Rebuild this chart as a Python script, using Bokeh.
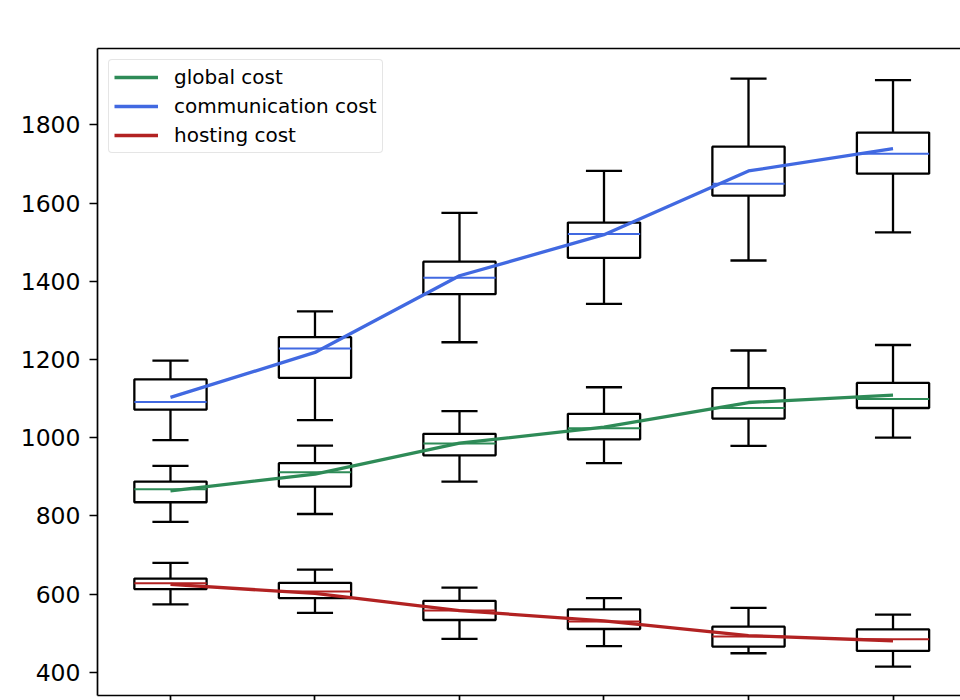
from bokeh.plotting import figure
from bokeh.models import FixedTicker, LinearAxis, Range1d, Legend, CustomLabelingPolicy
from bokeh.embed import file_html
from bokeh.resources import INLINE

positions = [1, 2, 3, 4, 5, 6]

comm_low = [994, 1045, 1244, 1342, 1453, 1525]
comm_q1 = [1072, 1153, 1367, 1460, 1619, 1675]
comm_med = [1091, 1228, 1409, 1521, 1649, 1726]
comm_q3 = [1149, 1257, 1450, 1550, 1744, 1780]
comm_high = [1197, 1323, 1575, 1682, 1918, 1914]
comm_line = [1103, 1218, 1414, 1519, 1682, 1739]

global_low = [785, 805, 888, 935, 979, 1000]
global_q1 = [835, 875, 955, 996, 1049, 1076]
global_med = [868, 912, 985, 1024, 1076, 1099]
global_q3 = [888, 935, 1010, 1061, 1127, 1140]
global_high = [928, 980, 1068, 1129, 1223, 1237]
global_line = [864, 907, 986, 1027, 1090, 1109]

host_low = [574, 552, 486, 467, 449, 415]
host_q1 = [613, 590, 534, 511, 466, 455]
host_med = [628, 607, 558, 530, 492, 485]
host_q3 = [640, 629, 583, 561, 517, 510]
host_high = [680, 663, 617, 590, 565, 548]
host_line = [625, 602, 558, 532, 494, 481]

y_ticks = [400, 600, 800, 1000, 1200, 1400, 1600, 1800]

FONT = "DejaVu Sans"
BOX_W = 0.5
CAP_W = 0.25

p = figure(width=960, height=700, output_backend="svg", toolbar_location=None,
           x_range=Range1d(0.495, 6.467), y_range=Range1d(341, 1995),
           min_border_left=97, min_border_top=48, min_border_right=0, min_border_bottom=0)
p.outline_line_color = None
p.xgrid.visible = False
p.ygrid.visible = False
p.background_fill_color = "white"
p.border_fill_color = "white"

# y axis
p.yaxis.ticker = FixedTicker(ticks=y_ticks)
p.yaxis.major_label_text_font = FONT
p.yaxis.major_label_text_font_size = "23.5px"
p.yaxis.major_label_text_color = "black"
p.yaxis.major_tick_out = 8
p.yaxis.major_tick_in = 0
p.yaxis.minor_tick_line_color = None
p.yaxis.axis_line_width = 1.7
p.yaxis.major_tick_line_width = 1.7
p.yaxis.axis_line_color = "black"
p.yaxis.major_tick_line_color = "black"
p.yaxis.major_label_standoff = 9

# x axis (its labels lie outside the reference crop)
xa = p.xaxis[0]
xa.ticker = FixedTicker(ticks=positions)
xa.major_label_policy = CustomLabelingPolicy(code="""
for (const i of indices)
  indices.unset(i)
""")
xa.major_label_text_font_size = "0px"
xa.major_label_standoff = 0
xa.major_tick_out = 5
xa.major_tick_in = 0
xa.minor_tick_line_color = None
xa.axis_line_width = 1.7
xa.major_tick_line_width = 1.7
xa.axis_line_color = "black"
xa.major_tick_line_color = "black"

# top spine
top = LinearAxis(ticker=FixedTicker(ticks=[]), major_tick_out=0, major_tick_in=0,
                 minor_tick_out=0, minor_tick_in=0, major_label_text_font_size="0px",
                 axis_line_width=1.7, axis_line_color="black")
p.add_layout(top, "above")

series = [
    ("global cost", "#2e8b57", global_low, global_q1, global_med, global_q3, global_high, global_line),
    ("communication cost", "#4169e1", comm_low, comm_q1, comm_med, comm_q3, comm_high, comm_line),
    ("hosting cost", "#b22222", host_low, host_q1, host_med, host_q3, host_high, host_line),
]

# boxes
for name, color, low, q1, med, q3, high, line in series:
    p.segment(x0=positions, y0=q3, x1=positions, y1=high, line_color="black", line_width=2.3)
    p.segment(x0=positions, y0=q1, x1=positions, y1=low, line_color="black", line_width=2.3)
    p.segment(x0=[x - CAP_W / 2 for x in positions], y0=high,
              x1=[x + CAP_W / 2 for x in positions], y1=high, line_color="black", line_width=2.3)
    p.segment(x0=[x - CAP_W / 2 for x in positions], y0=low,
              x1=[x + CAP_W / 2 for x in positions], y1=low, line_color="black", line_width=2.3)
    p.vbar(x=positions, width=BOX_W, bottom=q1, top=q3, fill_color=None,
           line_color="black", line_width=2.3)
    p.segment(x0=[x - BOX_W / 2 for x in positions], y0=med,
              x1=[x + BOX_W / 2 for x in positions], y1=med, line_color=color, line_width=2)

items = []
for name, color, low, q1, med, q3, high, line in series:
    r = p.line(x=positions, y=line, line_color=color, line_width=3.3)
    items.append((name, [r]))

legend = Legend(items=items, location="top_left", margin=11)
legend.label_text_font = FONT
legend.label_text_font_size = "20px"
legend.label_text_color = "black"
legend.glyph_width = 44
legend.glyph_height = 20
legend.label_height = 20
legend.label_standoff = 16
legend.spacing = 5
legend.padding = 5
legend.border_line_color = "#cccccc"
legend.border_line_width = 1.6
legend.background_fill_color = "white"
legend.background_fill_alpha = 0.8
if "border_radius" in legend.properties():
    legend.border_radius = 4
p.add_layout(legend, "center")

open("out.html", "w").write(file_html(p, INLINE))
